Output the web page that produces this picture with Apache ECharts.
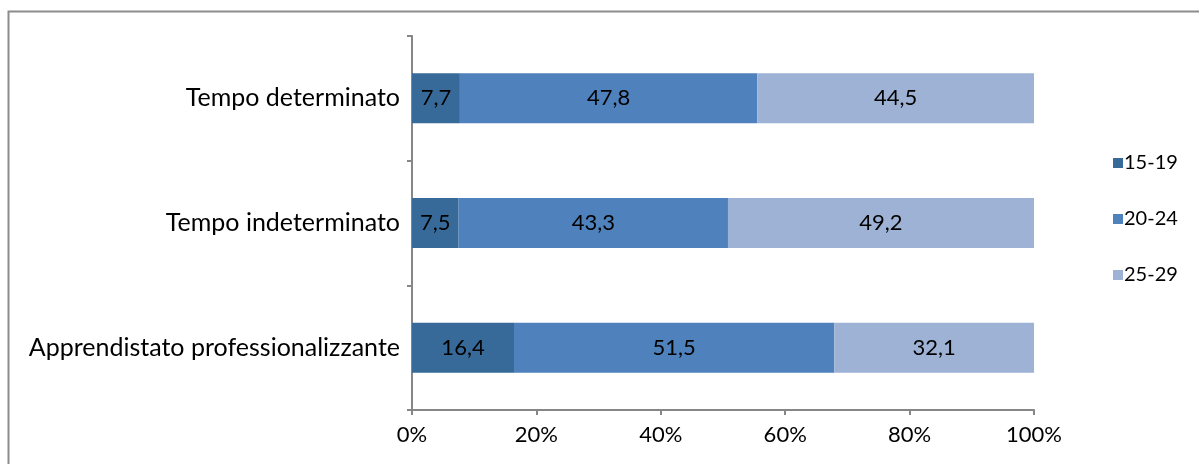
<!DOCTYPE html>
<html>
<head>
<meta charset="utf-8">
<script src="https://cdn.jsdelivr.net/npm/echarts@6/dist/echarts.min.js"></script>
<style>
    html, body { margin: 0; padding: 0; background: #fff; }
    #chart { width: 1199px; height: 464px; }
</style>
</head>
<body>
<div id="chart"></div>
<script>
// categorie (dal basso verso l'alto, come nell'asse)
const categories = ['Apprendistato professionalizzante', 'Tempo indeterminato', 'Tempo determinato'];
const ageGroups = ['15-19', '20-24', '25-29'];
const values1519 = [16.4, 7.5, 7.7];
const values2024 = [51.5, 43.3, 47.8];
const values2529 = [32.1, 49.2, 44.5];
const xTicks = [0, 20, 40, 60, 80, 100];
const colors = ['#376a99', '#4f81bd', '#9db2d4'];

const chart = echarts.init(document.getElementById('chart'));
const font = 'Lato, "Open Sans", sans-serif';

const seriesData = [values1519, values2024, values2529];

const option = {
    animation: false,
    textStyle: { fontFamily: font },
    graphic: [{
        type: 'rect',
        shape: { x: 8.5, y: 11.5, width: 1200, height: 470 },
        style: { fill: 'none', stroke: '#8c8c8c', lineWidth: 2 },
        silent: true
    }],
    grid: { left: 412, right: 165, top: 36, bottom: 54 },
    legend: {
        orient: 'vertical',
        left: 1108,
        top: 148,
        itemWidth: 10,
        itemHeight: 10,
        itemGap: 36,
        icon: 'rect',
        textStyle: { fontSize: 20, color: '#000', fontFamily: font, padding: [0, 0, 0, -4] },
        data: ageGroups
    },
    xAxis: {
        type: 'value',
        min: 0,
        max: 100,
        interval: 20,
        axisLine: { show: true, lineStyle: { color: '#868686', width: 2 } },
        axisTick: { show: true, length: 5, lineStyle: { color: '#868686', width: 2 } },
        splitLine: { show: false },
        axisLabel: {
            color: '#000', fontSize: 22, margin: 14, fontFamily: font,
            formatter: v => xTicks.includes(v) ? v + '%' : ''
        }
    },
    yAxis: {
        type: 'category',
        data: categories,
        axisLine: { show: true, lineStyle: { color: '#868686', width: 2 } },
        axisTick: { show: true, length: 5, lineStyle: { color: '#868686', width: 2 } },
        axisLabel: { color: '#000', fontSize: 25, margin: 12, fontFamily: font }
    },
    series: ageGroups.map((name, i) => ({
        name: name,
        type: 'bar',
        stack: 'tot',
        barWidth: 50,
        data: seriesData[i],
        itemStyle: { color: colors[i] },
        label: {
            show: true,
            position: 'inside',
            color: '#000',
            fontSize: 22,
            fontFamily: font,
            formatter: p => String(p.value).replace('.', ',')
        }
    }))
};

chart.setOption(option);
</script>
</body>
</html>
